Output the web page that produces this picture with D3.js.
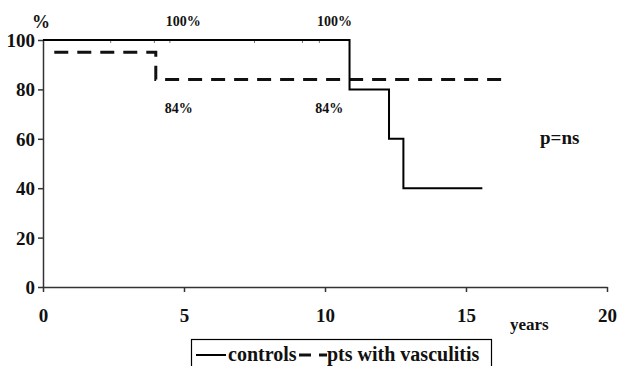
<!DOCTYPE html>
<html>
<head>
<meta charset="utf-8">
<script src="https://cdn.jsdelivr.net/npm/d3@7"></script>
<style>
  body { margin: 0; background: #fff; }
</style>
</head>
<body>
<script>
// survival steps: [years, percent]
const controls = [[0, 100], [10.87, 100], [10.87, 80], [12.27, 80], [12.27, 60], [12.78, 60], [12.78, 40], [15.58, 40]];
const vasculitis = [[0.4, 95], [4.0, 95], [4.0, 84], [16.3, 84]];
const censorTimes = [2.4, 3.95, 4.5, 7.5, 9.2, 9.8];
const xTicks = [0, 5, 10, 15, 20];
const yTicks = [0, 20, 40, 60, 80, 100];
const annotations = [
  { x: 4.35, y: 105.5, label: "100%" },
  { x: 9.72, y: 105.5, label: "100%" },
  { x: 4.32, y: 70.5, label: "84%" },
  { x: 9.65, y: 70.5, label: "84%" }
];

const FONT = "'Liberation Serif', 'Times New Roman', 'DejaVu Serif', serif";
const width = 621, height = 366;
const margin = { top: 40, right: 14, bottom: 79, left: 43 };

const x = d3.scaleLinear().domain([0, 20]).range([margin.left, width - margin.right]);
const y = d3.scaleLinear().domain([0, 100]).range([height - margin.bottom, margin.top]);

const svg = d3.select("body").append("svg")
  .attr("width", width).attr("height", height);

function label(sel, size) {
  return sel.style("font-family", FONT).style("font-weight", "bold")
    .style("font-size", size + "px").attr("fill", "#111");
}

// axes
const xAxis = d3.axisBottom(x).tickValues(xTicks).tickSize(5).tickSizeOuter(0);
const yAxis = d3.axisLeft(y).tickValues(yTicks).tickSize(5).tickSizeOuter(0);

const gx = svg.append("g").attr("transform", `translate(0,${y(0)})`).call(xAxis);
gx.select(".domain").attr("stroke", "#333").attr("stroke-width", 1.5);
gx.selectAll(".tick line").attr("stroke", "#333").attr("stroke-width", 1.5);
label(gx.selectAll(".tick text").attr("dy", 0).attr("y", 35), 19);

const gy = svg.append("g").attr("transform", `translate(${x(0)},0)`).call(yAxis);
gy.select(".domain").attr("stroke", "#333").attr("stroke-width", 1.5);
gy.selectAll(".tick line").attr("stroke", "#333").attr("stroke-width", 1.5);
label(gy.selectAll(".tick text").attr("x", -8).attr("dy", "0.34em"), 19);

// censor marks on the 100% line
svg.append("g").selectAll("line").data(censorTimes).join("line")
  .attr("x1", d => x(d)).attr("x2", d => x(d))
  .attr("y1", y(100) - 1).attr("y2", y(100) + 3)
  .attr("stroke", "#777").attr("stroke-width", 1);

const line = d3.line().x(d => x(d[0])).y(d => y(d[1]));

svg.append("path").datum(vasculitis)
  .attr("d", line)
  .attr("fill", "none").attr("stroke", "#111")
  .attr("stroke-width", 3).attr("stroke-dasharray", "14,9");

svg.append("path").datum(controls)
  .attr("d", line)
  .attr("fill", "none").attr("stroke", "#000")
  .attr("stroke-width", 2);

// labels
label(svg.append("text").attr("x", 32).attr("y", 28), 18).text("%");
label(svg.append("g").selectAll("text").data(annotations).join("text")
  .attr("x", d => x(d.x)).attr("y", d => y(d.y)), 14).text(d => d.label);
label(svg.append("text").attr("x", 540).attr("y", 144), 19).text("p=ns");
label(svg.append("text").attr("x", 510).attr("y", 330), 17).text("years");

// legend
const lg = svg.append("g");
lg.append("rect").attr("x", 191.5).attr("y", 339.5).attr("width", 300).attr("height", 40)
  .attr("fill", "none").attr("stroke", "#000").attr("stroke-width", 1.2);
lg.append("line").attr("x1", 196).attr("x2", 226).attr("y1", 355).attr("y2", 355)
  .attr("stroke", "#000").attr("stroke-width", 2);
label(lg.append("text").attr("x", 228).attr("y", 361), 20).text("controls");
lg.append("line").attr("x1", 299).attr("x2", 327).attr("y1", 355).attr("y2", 355)
  .attr("stroke", "#111").attr("stroke-width", 3).attr("stroke-dasharray", "12,8");
label(lg.append("text").attr("x", 327).attr("y", 361), 20).text("pts with vasculitis");
</script>
</body>
</html>
